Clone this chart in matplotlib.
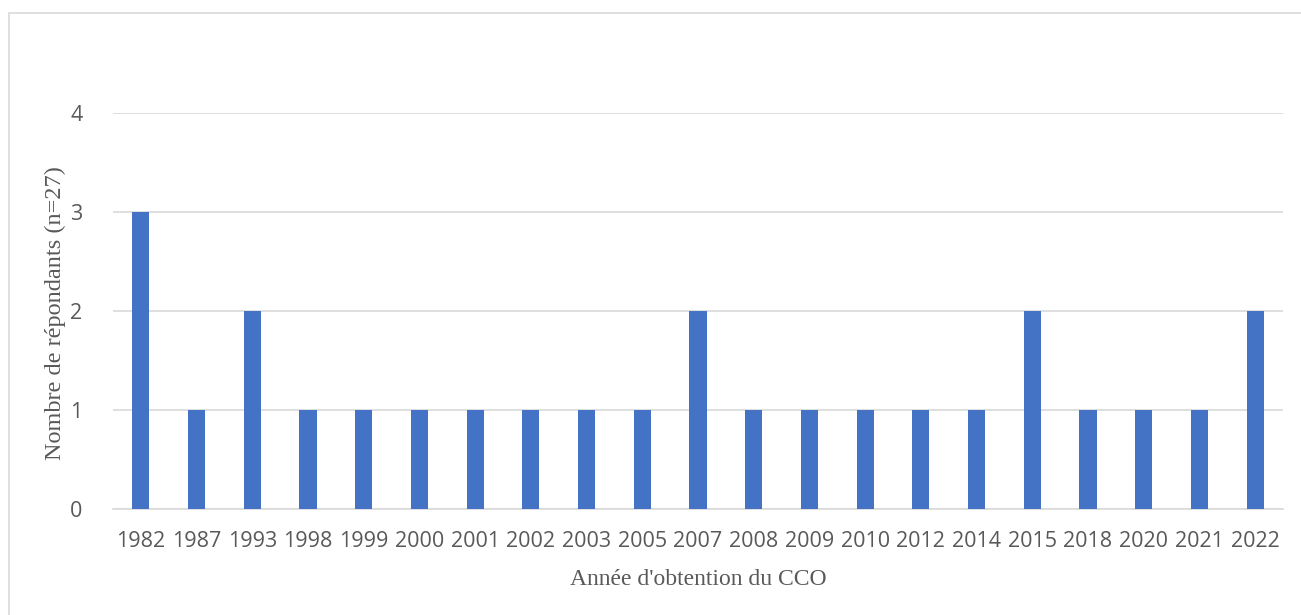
import matplotlib
matplotlib.use("Agg")
import matplotlib.pyplot as plt
from matplotlib.patches import Rectangle

# survey answers: year the CCO was obtained
years = ["1982", "1987", "1993", "1998", "1999", "2000", "2001", "2002", "2003", "2005",
         "2007", "2008", "2009", "2010", "2012", "2014", "2015", "2018", "2020", "2021", "2022"]
counts = [3, 1, 2, 1, 1, 1, 1, 1, 1, 1, 2, 1, 1, 1, 1, 1, 2, 1, 1, 1, 2]

W, H = 1301, 615
fig = plt.figure(figsize=(W / 100, H / 100), dpi=100)
ax = fig.add_axes([113 / W, 1 - 509 / H, (1283 - 113) / W, (509 - 113) / H])

x = range(len(years))
ax.bar(x, counts, width=0.31, color="#4472C4", zorder=3)

ax.set_xlim(-0.5, len(years) - 0.5)
ax.set_ylim(0, 4)
ax.set_yticks([0, 1, 2, 3, 4])
ax.set_xticks(list(x))
ax.set_xticklabels(years)

ax.grid(axis="y", color="#D9D9D9", linewidth=1.2, zorder=0)
for s in ["top", "right", "left"]:
    ax.spines[s].set_visible(False)
ax.spines["bottom"].set_color("#D9D9D9")
ax.spines["bottom"].set_linewidth(1.2)

ax.tick_params(axis="both", length=0, labelsize=15.5, labelcolor="#595959")
ax.tick_params(axis="x", pad=16)
ax.tick_params(axis="y", pad=22)
for lab in ax.get_xticklabels() + ax.get_yticklabels():
    lab.set_family("Open Sans")

ax.set_xlabel("Année d'obtention du CCO", family="Liberation Serif", fontsize=17,
              color="#595959", labelpad=12)
ax.set_ylabel("Nombre de répondants (n=27)", family="Liberation Serif", fontsize=17.5,
              color="#595959")
ax.yaxis.set_label_coords(66 / W, 1 - 313 / H, transform=fig.transFigure)

# light frame around the chart area
fig.patches.append(Rectangle((9 / W, -0.1), 1.1, 1 - 13 / H + 0.1, transform=fig.transFigure,
                             fill=False, edgecolor="#D9D9D9", linewidth=1.2))

fig.savefig("out.png", dpi=100)
